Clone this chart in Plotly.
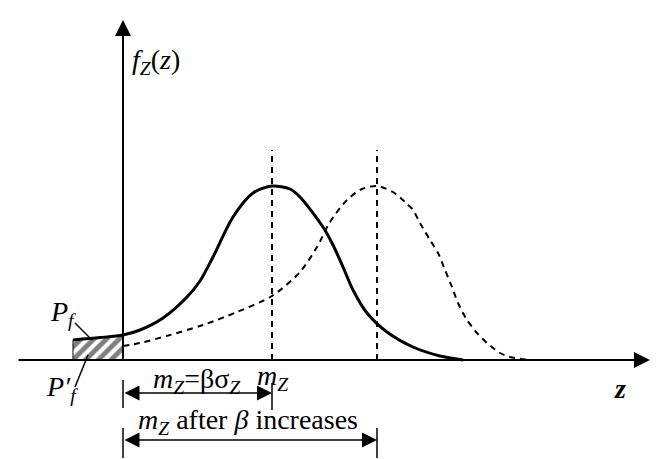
import plotly.graph_objects as go

# Solid curve f_Z(z) (original reliability)
z_solid = [-1.00, -0.46, 0.00, 0.34, 0.80, 1.28, 1.54, 1.80, 2.20, 2.60, 2.98, 3.34, 3.54,
           4.00, 4.20, 4.40, 4.60, 4.88, 5.28, 5.80, 6.34, 6.80]
f_solid = [0.050, 0.056, 0.0625, 0.075, 0.105, 0.1575, 0.1975, 0.2575, 0.3575, 0.4175, 0.435,
           0.4275, 0.4075, 0.3325, 0.2875, 0.2325, 0.175, 0.1175, 0.07, 0.0325, 0.01, 0.0]

# Dashed curve (after beta increases)
z_dash = [0.00, 0.34, 0.94, 1.60, 2.28, 2.98, 3.54, 3.88, 4.14, 4.48, 4.78, 5.08, 5.40, 5.64,
          5.80, 5.94, 6.14, 6.30, 6.44, 6.58, 6.70, 6.88, 7.08, 7.28, 7.54, 7.74, 8.14]
f_dash = [0.035, 0.0425, 0.0625, 0.0875, 0.12, 0.16, 0.22, 0.2825, 0.345, 0.40, 0.4275, 0.435,
          0.42, 0.395, 0.375, 0.3425, 0.30, 0.2675, 0.225, 0.1825, 0.1425, 0.10, 0.0675, 0.0425,
          0.0175, 0.0075, 0.0]

# Failure-probability (hatched) region
z_hatch = [-1.00, -0.46, 0.00, 0.00, -1.00, -1.00]
f_hatch = [0.050, 0.056, 0.0625, 0.0, 0.0, 0.050]

m_z1 = 2.98
m_z2 = 5.08

serif = "Liberation Serif"
fig = go.Figure()

fig.add_trace(go.Scatter(x=z_hatch, y=f_hatch, mode="lines", fill="toself",
                         line=dict(color="black", width=1),
                         fillcolor="white",
                         fillpattern=dict(shape="/", fgcolor="black", bgcolor="white",
                                          size=9, solidity=0.55),
                         hoverinfo="skip", showlegend=False))

fig.add_trace(go.Scatter(x=z_dash, y=f_dash, mode="lines",
                         line=dict(color="black", width=2, dash="6px,5px", shape="spline", smoothing=0.8),
                         showlegend=False))
fig.add_trace(go.Scatter(x=z_solid, y=f_solid, mode="lines",
                         line=dict(color="black", width=3, shape="spline", smoothing=0.8),
                         showlegend=False))

# dashed vertical mean lines
for m in (m_z1, m_z2):
    fig.add_shape(type="line", x0=m, x1=m, y0=0, y1=0.525,
                  line=dict(color="black", width=2, dash="6px,5px"))

# dimension ticks
for (xx, y0, y1) in [(0, -0.05, -0.12), (m_z1, -0.0575, -0.125), (0, -0.17, -0.245), (m_z2, -0.17, -0.245)]:
    fig.add_shape(type="line", x0=xx, x1=xx, y0=y0, y1=y1, line=dict(color="black", width=1.5))

# axes arrows
fig.add_annotation(x=10.54, y=0, ax=-2.12, ay=0, xref="x", yref="y", axref="x", ayref="y",
                   text="", showarrow=True, arrowhead=2, arrowsize=1.6, arrowwidth=2, arrowcolor="black")
fig.add_annotation(x=0, y=0.85, ax=0, ay=0, xref="x", yref="y", axref="x", ayref="y",
                   text="", showarrow=True, arrowhead=2, arrowsize=1.6, arrowwidth=2, arrowcolor="black")

# dimension arrows
for (xe, yy) in [(m_z1, -0.0825), (m_z2, -0.20)]:
    fig.add_annotation(x=xe, y=yy, ax=0, ay=yy, xref="x", yref="y", axref="x", ayref="y",
                       text="", showarrow=True, arrowhead=2, arrowside="end+start",
                       arrowsize=2.0, arrowwidth=1.5, arrowcolor="black")

# leader lines
fig.add_shape(type="line", x0=-0.96, y0=0.0925, x1=-0.62, y1=0.05, line=dict(color="black", width=1.5))
fig.add_shape(type="line", x0=-0.96, y0=-0.0675, x1=-0.70, y1=0.0125, line=dict(color="black", width=1.5))

def label(x, y, text, size=28, xanchor="center"):
    fig.add_annotation(x=x, y=y, xref="x", yref="y", text=text, showarrow=False,
                       xanchor=xanchor, yanchor="middle",
                       font=dict(family=serif, size=size, color="black"))

label(0.14, 0.7475, "<i>f</i><sub><i>Z</i></sub>(<i>z</i>)", xanchor="left")
label(-1.2, 0.1175, "<i>P</i><sub><i>f</i></sub>")
label(-1.22, -0.07, "<i>P′</i><sub><i>f</i></sub>")
label(1.48, -0.05, "<i>m</i><sub><i>Z</i></sub>=βσ<sub><i>Z</i></sub>")
label(3.0, -0.0425, "<i>m</i><sub><i>Z</i></sub>")
label(2.5, -0.1525, "<i>m</i><sub><i>Z</i></sub> after <i>β</i> increases")
label(9.94, -0.07, "<b><i>z</i></b>")

fig.update_layout(width=656, height=459, margin=dict(l=0, r=0, t=0, b=0),
                  paper_bgcolor="white", plot_bgcolor="white", showlegend=False)
fig.update_xaxes(range=[-2.46, 10.66], visible=False, fixedrange=True)
fig.update_yaxes(range=[-0.2475, 0.9], visible=False, fixedrange=True)

fig.write_html("out.html")
